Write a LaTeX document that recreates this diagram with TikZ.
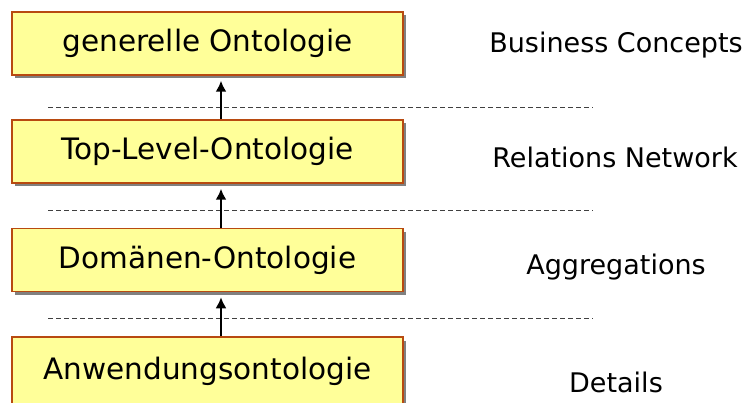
\documentclass[tikz,border=0pt]{standalone}
\usepackage{fontspec}
\setmainfont{DejaVu Sans}
\usetikzlibrary{shadows, arrows.meta}
\definecolor{boxfill}{RGB}{255,255,153}
\definecolor{boxline}{RGB}{184,74,16}
\definecolor{boxshadow}{RGB}{128,128,128}
\definecolor{sepline}{RGB}{64,64,64}
\begin{document}
\begin{tikzpicture}[
  x = 1pt,
  y = -1pt,
  level/.style = {
    shape = rectangle,
    fill = boxfill,
    draw = boxline,
    line width = 1.5pt,
    minimum width = 391pt,
    minimum height = 63pt,
    inner sep = 0pt,
    font = \fontsize{29.5}{33}\selectfont,
    drop shadow = {shadow xshift = 3pt, shadow yshift = -3.5pt,
      fill = boxshadow, opacity = 1},
  },
  tag/.style = {
    font = \fontsize{27}{30}\selectfont,
    inner sep = 0pt,
  },
  sep/.style = {
    color = sepline,
    line width = 0.8pt,
    dash pattern = on 5pt off 3pt,
  },
  up/.style = {
    -{Latex[length = 11pt, width = 11pt]},
    line width = 2pt,
  },
  every path/.style = {
    thick
  }
]
  \useasboundingbox (0, 0) rectangle (746, 403);

  \draw node[level] (L1) at (207.5, 43.5) {generelle Ontologie};
  \draw node[level] (L2) at (207.5, 151.5) {Top-Level-Ontologie};
  \draw node[level] (L3) at (207.5, 260) {Domänen-Ontologie};
  \draw node[level, minimum height = 68pt] (L4) at (207.5, 371) {Anwendungsontologie};

  \draw node[tag] (T1) at (616, 45) {Business Concepts};
  \draw node[tag] (T2) at (615, 157) {Relations Network};
  \draw node[tag] (T3) at (616, 267) {Aggregations};
  \draw node[tag] (T4) at (616, 382) {Details};

  \draw[sep] (48, 107) -- (593, 107);
  \draw[sep] (48, 210) -- (593, 210);
  \draw[sep] (48, 318) -- (593, 318);

  \draw[up] ([xshift = 13.5pt]L2.north) -- ([xshift = 13.5pt, yshift = -5pt]L1.south);
  \draw[up] ([xshift = 13.5pt]L3.north) -- ([xshift = 13.5pt, yshift = -5pt]L2.south);
  \draw[up] ([xshift = 13.5pt]L4.north) -- ([xshift = 13.5pt, yshift = -5pt]L3.south);
\end{tikzpicture}
\end{document}
